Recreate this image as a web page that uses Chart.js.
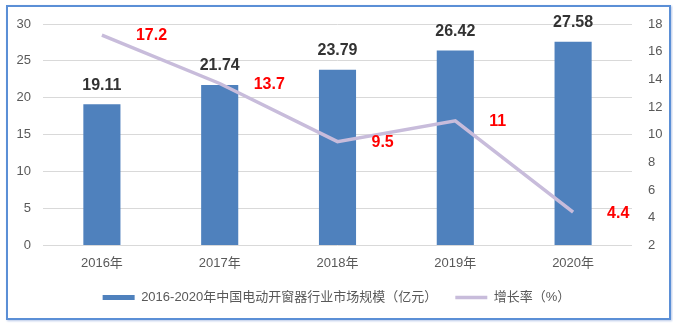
<!DOCTYPE html>
<html>
<head>
<meta charset="utf-8">
<script src="https://cdn.jsdelivr.net/npm/chart.js@4/dist/chart.umd.min.js"></script>
<style>
  body { margin: 0; background: #fff; }
  #wrap { position: relative; width: 673px; height: 323px; }
  #frame {
    position: absolute; left: 6px; top: 5px; width: 661px; height: 311px;
    border: 2px solid #5b8fd6; box-shadow: 1px 1px 2px #b8c8e8;
  }
  canvas { position: absolute; left: 0; top: 0; }
</style>
</head>
<body>
<div id="wrap">
  <div id="frame"></div>
  <canvas id="chart" width="673" height="323"></canvas>
</div>
<script>
// data
const years = ["2016年", "2017年", "2018年", "2019年", "2020年"];
const marketSize = [19.11, 21.74, 23.79, 26.42, 27.58];
const growthRate = [17.2, 13.7, 9.5, 11, 4.4];
const leftTicks = [0, 5, 10, 15, 20, 25, 30];
const rightTicks = [2, 4, 6, 8, 10, 12, 14, 16, 18];

const FONT = '"Liberation Sans", "Noto Sans CJK SC", sans-serif';

// value labels (bars: above, line: to the right)
const labelPlugin = {
  id: "labels",
  afterDatasetsDraw(chart) {
    const ctx = chart.ctx;
    ctx.save();
    ctx.font = "bold 16px " + FONT;
    ctx.textBaseline = "middle";

    chart.getDatasetMeta(0).data.forEach((bar, i) => {
      ctx.fillStyle = "#333333";
      ctx.textAlign = "center";
      ctx.fillText(marketSize[i].toString(), bar.x, bar.y - 19);
    });

    chart.getDatasetMeta(1).data.forEach((pt, i) => {
      ctx.fillStyle = "#ff0000";
      ctx.textAlign = "left";
      ctx.fillText(growthRate[i].toString(), pt.x + 34, pt.y + 1);
    });
    ctx.restore();
  }
};

new Chart(document.getElementById("chart"), {
  type: "bar",
  data: {
    labels: years,
    datasets: [
      {
        label: "2016-2020年中国电动开窗器行业市场规模（亿元）",
        data: marketSize,
        backgroundColor: "#4f81bd",
        borderWidth: 0,
        categoryPercentage: 1,
        barPercentage: 0.315,
        yAxisID: "y",
        pointStyle: "rect",
        order: 2
      },
      {
        type: "line",
        label: "增长率（%）",
        data: growthRate,
        borderColor: "#c8bcdb",
        backgroundColor: "#c8bcdb",
        borderWidth: 3.5,
        pointRadius: 0,
        tension: 0,
        yAxisID: "y1",
        pointStyle: "line",
        order: 1
      }
    ]
  },
  options: {
    responsive: false,
    animation: false,
    layout: { padding: { top: 24, bottom: 9, left: 0, right: 0 } },
    plugins: {
      tooltip: { enabled: false },
      legend: {
        position: "bottom",
        labels: {
          usePointStyle: true,
          pointStyleWidth: 32,
          boxHeight: 5,
          color: "#595959",
          padding: 18,
          font: { family: FONT, size: 13 },
          sort: (a, b) => a.datasetIndex - b.datasetIndex
        }
      }
    },
    scales: {
      x: {
        grid: { display: false },
        border: { display: false },
        ticks: { color: "#595959", font: { family: FONT, size: 13 }, padding: 2 }
      },
      y: {
        position: "left",
        min: 0,
        max: 30,
        afterBuildTicks: s => { s.ticks = leftTicks.map(v => ({ value: v })); },
        afterFit: s => { s.width = 43; },
        grid: { color: "#d9d9d9", lineWidth: 1, drawTicks: false },
        border: { display: false },
        ticks: { color: "#595959", font: { family: FONT, size: 13 }, padding: 12 }
      },
      y1: {
        position: "right",
        min: 2,
        max: 18,
        afterBuildTicks: s => { s.ticks = rightTicks.map(v => ({ value: v })); },
        afterFit: s => { s.width = 41; },
        grid: { display: false },
        border: { display: false },
        ticks: { color: "#595959", font: { family: FONT, size: 13 }, padding: 8 }
      }
    }
  },
  plugins: [labelPlugin]
});
</script>
</body>
</html>
